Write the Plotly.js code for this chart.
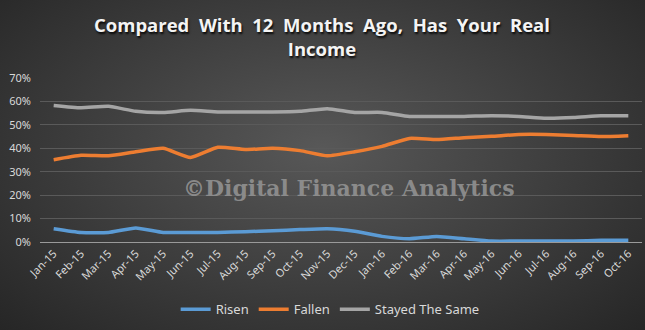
<!DOCTYPE html>
<html><head><meta charset="utf-8">
<script src="https://cdn.plot.ly/plotly-3.0.1.min.js"></script>
<style>
html,body{margin:0;padding:0;}
#chart{width:645px;height:330px;background:radial-gradient(ellipse 75% 85% at 50% 45%, #585858 0%, #3d3d3d 50%, #222222 100%);}
</style></head>
<body><div id="chart"></div>
<script>
const months = ["Jan-15","Feb-15","Mar-15","Apr-15","May-15","Jun-15","Jul-15","Aug-15","Sep-15","Oct-15","Nov-15","Dec-15","Jan-16","Feb-16","Mar-16","Apr-16","May-16","Jun-16","Jul-16","Aug-16","Sep-16","Oct-16"];
const risen = [5.7,4.1,4.1,6.0,4.1,4.1,4.1,4.4,4.8,5.3,5.7,4.6,2.4,1.4,2.4,1.4,0.4,0.4,0.4,0.4,0.7,0.7];
const fallen = [35.1,37.0,36.8,38.5,40.0,36.1,40.4,39.5,40.0,39.0,36.8,38.5,40.8,44.2,43.7,44.5,45.1,45.9,45.9,45.5,45.0,45.4];
const same = [58.3,57.3,57.9,55.8,55.3,56.2,55.5,55.5,55.5,55.8,56.9,55.3,55.3,53.6,53.6,53.6,53.9,53.6,52.8,53.1,53.9,53.9];
const names = ["Risen","Fallen","Stayed The Same"];
const colors = ["#5B9BD5","#ED7D31","#A5A5A5"];
const series = [risen, fallen, same];
const titleLines = ["Compared With 12 Months Ago, Has Your Real", "Income"];
const watermark = "©Digital Finance Analytics";

const titleText = titleLines.map(l => l.split(" ").join("\u00a0 ")).join("<br>");
const traces = series.map((s,i)=>({
  x: months, y: s.map(v=>v/100), type:"scatter", mode:"lines", name:names[i],
  line:{color:colors[i], width:3.5, shape:"spline", smoothing:0.5}
}));
const layout = {
  width:645, height:330,
  paper_bgcolor:"rgba(0,0,0,0)", plot_bgcolor:"rgba(0,0,0,0)",
  margin:{l:40,r:3,t:78,b:88},
  xaxis:{type:"category", range:[-0.5, months.length-0.5], tickangle:-45, showgrid:false, showline:true, linecolor:"#9a9a9a", linewidth:1, automargin:false,
    ticks:"", tickfont:{family:"Noto Sans, sans-serif", size:11, color:"#d9d9d9"}},
  yaxis:{range:[0,0.7], dtick:0.1, tickformat:".0%", showgrid:true, gridcolor:"#5a5a5a", gridwidth:1, automargin:false,
    zeroline:false, showline:false, ticks:"", ticklabelstandoff:8, tickfont:{family:"Noto Sans, sans-serif", size:11, color:"#d9d9d9"}},
  showlegend:true,
  legend:{orientation:"h", x:0.482, xanchor:"center", y:-0.41, yanchor:"middle",
    font:{family:"Noto Sans, sans-serif", size:13, color:"#d9d9d9"}, bgcolor:"rgba(0,0,0,0)", itemwidth:30},
  annotations:[
    {text:titleText, xref:"paper", yref:"paper", x:0.468, y:1.255, xanchor:"center", yanchor:"middle", showarrow:false,
     font:{family:"Open Sans, Noto Sans, sans-serif", size:18.5, color:"#f4f4f4", weight:"bold", shadow:"1px 2px 2px rgba(0,0,0,0.85)"}},
    {text:watermark, xref:"paper", yref:"paper", x:0.513, y:0.235, showarrow:false,
     font:{family:"DejaVu Serif, serif", size:22, color:"rgba(150,150,150,0.85)", weight:"bold"}}]
};
Plotly.newPlot("chart", traces, layout, {displayModeBar:false, staticPlot:true});
</script></body></html>
